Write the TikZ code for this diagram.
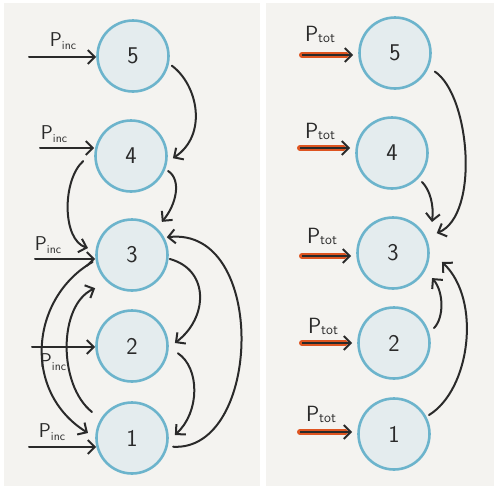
\documentclass[tikz,border=0pt]{standalone}
\usetikzlibrary{arrows.meta,calc}
\definecolor{panel}{HTML}{F4F3F0}
\definecolor{ring}{HTML}{6CB4CC}
\definecolor{disc}{HTML}{E4ECEE}
\definecolor{ink}{HTML}{2A2A2A}
\definecolor{hot}{HTML}{DE5420}
\tikzset{
  state/.style={circle,draw=ring,fill=disc,line width=2.6pt,minimum size=71pt,inner sep=0pt,
    font=\sffamily\fontsize{24}{24}\selectfont,text=ink},
  link/.style={draw=ink,line width=2pt,line cap=round,-{Straight Barb[length=7pt,width=14pt,line width=2pt]}},
  feed/.style={draw=ink,line width=2pt,line cap=round,-{Straight Barb[length=7pt,width=14pt,line width=2pt]}},
  hotline/.style={draw=hot,line width=6pt,line cap=round},
  corefeed/.style={draw=ink,line width=1.6pt,-{Straight Barb[length=7pt,width=14pt,line width=2pt]}},
  lab/.style={text=ink,inner sep=0pt},
}
\newcommand{\pinc}{{\sffamily\fontsize{20}{20}\selectfont P\raisebox{-0.3ex}{\fontsize{12}{12}\selectfont inc}}}
\newcommand{\ptot}{{\sffamily\fontsize{22}{22}\selectfont P\raisebox{-0.1ex}{\fontsize{14}{14}\selectfont tot}}}
\begin{document}
\begin{tikzpicture}[x=1pt,y=1pt]
\useasboundingbox (0,0) rectangle (496,-488);
\fill[white] (0,0) rectangle (496,-488);
\fill[panel] (4,-3) rectangle (260,-486);
\fill[panel] (266,-3) rectangle (494,-486);

% left panel nodes
\node[state] (n5) at (133,-56) {5};
\node[state] (n4) at (131,-156) {4};
\node[state] (n3) at (132,-255) {3};
\node[state] (n2) at (132,-346) {2};
\node[state] (n1) at (132,-438) {1};

% right panel nodes
\node[state] (m5) at (395,-53) {5};
\node[state] (m4) at (392,-153) {4};
\node[state] (m3) at (393,-253) {3};
\node[state] (m2) at (394,-343) {2};
\node[state] (m1) at (394,-434) {1};

% left incoming arrows
\coordinate (a5) at (29,-57);
\coordinate (a4) at (40,-148);
\coordinate (a3) at (35,-259);
\coordinate (a2) at (32,-347);
\coordinate (a1) at (29,-447);
\draw[feed] (a5) -- (a5 -| n5.west);
\draw[feed] (a4) -- (a4 -| n4.west);
\draw[feed] (a3) -- (a3 -| n3.west);
\draw[feed] (a2) -- (a2 -| n2.west);
\draw[feed] (a1) -- ($(a1 -| n1.west)+(1,0)$);
\node[lab] (l5) at (63,-41) {\pinc};
\node[lab] (l4) at (54,-134) {\pinc};
\node[lab] (l3) at (48,-245) {\pinc};
\node[lab] (l2) at (53,-362) {\pinc};
\node[lab] (l1) at (52,-432) {\pinc};

% left connectors
\draw[link] ($(n5)+(-14:40)$) .. controls (198,-85) and (208,-135) .. ($(n4)+(-3:42)$);
\draw[link] ($(n4)+(-22:40)$) .. controls (182,-180) and (176,-205) .. ($(n3)+(48:44.6)$);
\draw[link] ($(n4)+(186:48)$) .. controls (62,-180) and (62,-240) .. ($(n3)+(171:44.6)$);
\draw[link] ($(n1)+(-12:42)$) .. controls (262,-452) and (268,-226) .. ($(n3)+(27:39)$);
\draw[link] ($(n3)+(-6:38)$) .. controls (210,-270) and (208,-318) .. ($(n2)+(4:43)$);
\draw[link] ($(n2)+(-9:46.5)$) .. controls (200,-368) and (200,-412) .. ($(n1)+(4:43)$);
\draw[link] ($(n3)+(190:40)$) .. controls (30,-298) and (22,-392) .. ($(n1)+(173.5:44.3)$);
\draw[link] ($(n1)+(147:47.7)$) .. controls (58,-385) and (58,-305) .. ($(n3)+(222:49.6)$);

% right incoming arrows
\coordinate (b5) at (302,-55);
\coordinate (b4) at (300,-148);
\coordinate (b3) at (302,-256);
\coordinate (b2) at (302,-343);
\coordinate (b1) at (300,-432);
\foreach \b/\m in {b5/m5,b4/m4,b3/m3,b2/m2,b1/m1}{
  \draw[hotline] (\b) -- ($(\b -| \m.west)+(-12,0)$);
  \draw[corefeed] (\b) -- ($(\b -| \m.west)+(-5,0)$);
}
\node[lab] (k5) at (320,-34) {\ptot};
\node[lab] (k4) at (320,-131) {\ptot};
\node[lab] (k3) at (322,-236) {\ptot};
\node[lab] (k2) at (323,-326) {\ptot};
\node[lab] (k1) at (321,-414) {\ptot};

% right connectors
\draw[link] ($(m5)+(-25:44)$) .. controls (470,-95) and (480,-215) .. ($(m3)+(24.4:48)$);
\draw[link] ($(m4)+(-44:41.7)$) .. controls (430,-190) and (434,-205) .. ($(m3)+(38.5:49.8)$);
\draw[link] ($(m2)+(20.5:42.7)$) .. controls (444,-318) and (444,-292) .. ($(m3)+(-32.7:46.4)$);
\draw[link] ($(m1)+(28.5:39.8)$) .. controls (470,-390) and (482,-300) .. ($(m3)+(-10.4:49.8)$);
\end{tikzpicture}
\end{document}
